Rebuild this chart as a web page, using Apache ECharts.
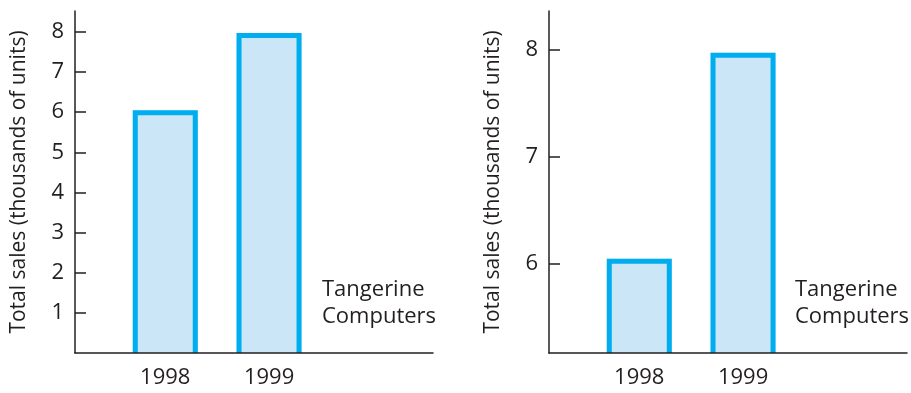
<!DOCTYPE html>
<html>
<head>
<meta charset="utf-8">
<style>
  html, body { margin: 0; padding: 0; background: #fff; }
  #chart { width: 911px; height: 393px; }
</style>
<script src="https://cdn.jsdelivr.net/npm/echarts@6/dist/echarts.min.js"></script>
</head>
<body>
<div id="chart"></div>
<script>
// ---- data ----
const years = [1998, 1999];
const sales = [6.05, 7.97];         // thousands of units
const leftTicks = [1, 2, 3, 4, 5, 6, 7, 8];
const rightTicks = [6, 7, 8];
const yTitle = 'Total sales (thousands of units)';
const company = 'Tangerine\nComputers';

const FONT = '"Open Sans", sans-serif';
const TEXT = '#231F20';
const FILL = '#CAE6F7';
const EDGE = '#00AEEF';
const BAR_W = 65, BORDER = 5;
const pairs = years.map((y, i) => [y, sales[i]]);

function xAx(gi) {
  return {
    type: 'value', gridIndex: gi, min: 1997.13, max: 2000.58,
    splitLine: { show: false },
    axisLine: { show: true, lineStyle: { color: TEXT, width: 1.5 } },
    axisTick: { show: false },
    axisLabel: {
      customValues: years, formatter: v => String(v),
      color: TEXT, fontSize: 22, fontFamily: FONT, margin: 14
    },
    z: 5
  };
}
function yAx(gi, min, max, ticks) {
  return {
    type: 'value', gridIndex: gi, min: min, max: max,
    name: yTitle, nameLocation: 'middle', nameGap: 45,
    nameTextStyle: { color: TEXT, fontSize: 21, fontFamily: FONT },
    splitLine: { show: false },
    axisLine: { show: true, lineStyle: { color: TEXT, width: 1.5 } },
    axisTick: { show: true, inside: true, length: 11, customValues: ticks, lineStyle: { color: TEXT, width: 1.5 } },
    axisLabel: { customValues: ticks, color: TEXT, fontSize: 22, fontFamily: FONT, margin: 11 },
    z: 5
  };
}
// open-bottom bar: fill + three-sided border, positioned via the axes' scales
function renderBar(params, api) {
  const cs = params.coordSys;
  const top = api.coord([api.value(0), api.value(1)]);
  const baseY = cs.y + cs.height;
  const l = top[0] - BAR_W / 2, r = top[0] + BAR_W / 2, h = BORDER / 2;
  return {
    type: 'group',
    children: [
      { type: 'rect', shape: { x: l, y: top[1], width: BAR_W, height: baseY - top[1] },
        style: { fill: FILL } },
      { type: 'polyline',
        shape: { points: [[l + h, baseY], [l + h, top[1] + h], [r - h, top[1] + h], [r - h, baseY]] },
        style: { stroke: EDGE, lineWidth: BORDER, fill: null, lineJoin: 'miter' } }
    ]
  };
}
function barSeries(gi) {
  return {
    type: 'custom', xAxisIndex: gi, yAxisIndex: gi,
    data: pairs, renderItem: renderBar, z: 2
  };
}

const chart = echarts.init(document.getElementById('chart'), null, { renderer: 'canvas' });
chart.setOption({
  animation: false,
  grid: [
    { left: 75, top: 11, width: 358, height: 342 },
    { left: 549, top: 11, width: 358, height: 342 }
  ],
  xAxis: [xAx(0), xAx(1)],
  yAxis: [yAx(0, 0, 8.52, leftTicks), yAx(1, 5.17, 8.36, rightTicks)],
  series: [barSeries(0), barSeries(1)],
  graphic: [
    { type: 'text', left: 322, top: 276, style: { text: company, fill: TEXT, font: '22px ' + FONT, lineHeight: 27 } },
    { type: 'text', left: 795, top: 276, style: { text: company, fill: TEXT, font: '22px ' + FONT, lineHeight: 27 } }
  ]
});
</script>
</body>
</html>
